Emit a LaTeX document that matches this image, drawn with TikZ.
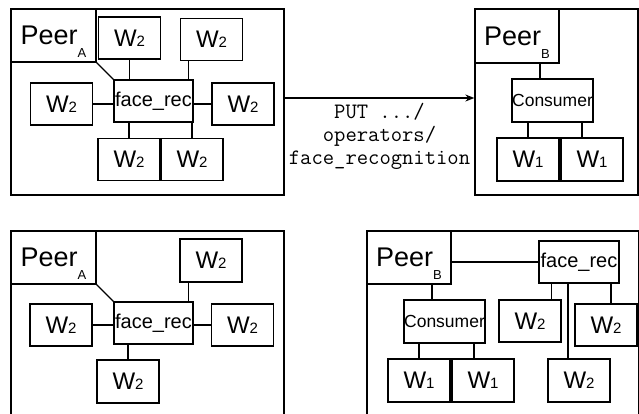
\documentclass[tikz,border=0pt]{standalone}
\usepackage{fontspec}
\setmainfont{Liberation Sans}
\usetikzlibrary{arrows.meta}

\newcommand{\wnum}[1]{W{\fontsize{15}{15}\selectfont #1}}
\newcommand{\peer}[1]{Peer\raisebox{-13pt}[0pt][0pt]{\fontsize{13}{13}\selectfont #1}}

\begin{document}
\begin{tikzpicture}[x=1pt,y=-1pt,
    box/.style={draw,line width=1.3pt,inner sep=0pt,minimum width=62pt,minimum height=42pt,font=\fontsize{24}{24}\selectfont},
    peerbox/.style={box,minimum width=85pt,minimum height=53pt,font=\fontsize{27}{27}\selectfont},
    opbox/.style={box,minimum width=79pt,minimum height=42pt,font=\fontsize{20}{20}\selectfont},
    consbox/.style={box,minimum width=81pt,minimum height=43pt,font=\fontsize{17.5}{17.5}\selectfont},
    panel/.style={draw,line width=1.3pt,inner sep=0pt},
    link/.style={line width=1.4pt}]
    \clip (0,0) rectangle (639,413);

    % peer A, before
    \node[panel,minimum width=273pt,minimum height=186pt] (panA) at (147.5,102) {};
    \node[peerbox] (peerA) at (53.5,35.5) {\peer{A}};
    \node[opbox] (faceA) at (153.5,101) {face\_rec};
    \node[box] (wA1) at (129.5,38) {\wnum{2}};
    \node[box] (wA2) at (211.5,39.5) {\wnum{2}};
    \node[box] (wA3) at (61.5,104) {\wnum{2}};
    \node[box] (wA4) at (243,104) {\wnum{2}};
    \node[box] (wA5) at (129,159.5) {\wnum{2}};
    \node[box] (wA6) at (192,159.5) {\wnum{2}};
    \draw[link] (peerA.south east) -- (faceA.north west);
    \draw[link] (wA1.south) -- (wA1.south |- faceA.north);
    \draw[link] ([xshift=-5pt]faceA.north east) -- ([xshift=-5pt]faceA.north east |- wA2.south);
    \draw[link] (wA3.east) -- (wA3.east -| faceA.west);
    \draw[link] (wA4.west) -- (wA4.west -| faceA.east);
    \draw[link] (wA5.north) -- (wA5.north |- faceA.south);
    \draw[link] (wA6.north) -- (wA6.north |- faceA.south);

    % peer B, before
    \node[panel,minimum width=163pt,minimum height=186pt] (panB) at (556.5,102) {};
    \node[peerbox,minimum width=84pt,minimum height=54pt] (peerB) at (517,36) {\peer{B}};
    \node[consbox] (consB) at (552.5,100.5) {Consumer};
    \node[box,minimum height=43pt] (wB1) at (528,159.5) {\wnum{1}};
    \node[box,minimum height=43pt] (wB2) at (592,159.5) {\wnum{1}};
    \draw[link] ([xshift=-12.5pt]consB.north) -- ([xshift=-12.5pt]consB.north |- peerB.south);
    \draw[link] (wB1.north) -- (wB1.north |- consB.south);
    \draw[link] ([xshift=-10pt]wB2.north) -- ([xshift=-10pt]wB2.north |- consB.south);

    % request
    \draw[link,-{Stealth[length=9pt,width=7pt]}] ([yshift=4pt]panA.east) -- node[below=1pt,align=center,font=\ttfamily\fontsize{22}{23}\selectfont]{PUT .../\\operators/\\face\_recognition} ([yshift=4pt]panB.west);

    % peer A, after
    \node[panel,minimum width=273pt,minimum height=199pt] (panC) at (147.5,330.5) {};
    \node[peerbox] (peerC) at (53.5,257.5) {\peer{A}};
    \node[opbox] (faceC) at (153.5,323) {face\_rec};
    \node[box,minimum height=43pt] (wC1) at (211,260.5) {\wnum{2}};
    \node[box] (wC2) at (61,325) {\wnum{2}};
    \node[box] (wC3) at (242.5,325) {\wnum{2}};
    \node[box,minimum height=43pt] (wC4) at (128,381.5) {\wnum{2}};
    \draw[link] (peerC.south east) -- (faceC.north west);
    \draw[link] ([xshift=-5pt]faceC.north east) -- ([xshift=-5pt]faceC.north east |- wC1.south);
    \draw[link] (wC2.east) -- (wC2.east -| faceC.west);
    \draw[link] (wC3.west) -- (wC3.west -| faceC.east);
    \draw[link] (wC4.north) -- (wC4.north |- faceC.south);

    % peer B, after
    \node[panel,minimum width=271.5pt,minimum height=199pt] (panD) at (502.75,330.5) {};
    \node[peerbox,minimum width=84pt] (peerD) at (409,257.5) {\peer{B}};
    \node[opbox,minimum width=80pt] (faceD) at (579,262) {face\_rec};
    \node[consbox] (consD) at (444.5,321.5) {Consumer};
    \node[box] (wD1) at (530,321) {\wnum{2}};
    \node[box] (wD2) at (606,325) {\wnum{2}};
    \node[box,minimum height=43pt] (wD3) at (579,380.5) {\wnum{2}};
    \node[box,minimum height=43pt] (wD4) at (419,380.5) {\wnum{1}};
    \node[box,minimum height=43pt] (wD5) at (483,380.5) {\wnum{1}};
    \draw[link] (faceD.west) -- (faceD.west -| peerD.east);
    \draw[link] ([xshift=-12.5pt]consD.north) -- ([xshift=-12.5pt]consD.north |- peerD.south);
    \draw[link] (wD4.north) -- (wD4.north |- consD.south);
    \draw[link] ([xshift=-9pt]wD5.north) -- ([xshift=-9pt]wD5.north |- consD.south);
    \draw[link] ([xshift=13pt]faceD.south west) -- ([xshift=13pt]faceD.south west |- wD1.north);
    \draw[link] ([xshift=-11pt]wD3.north) -- ([xshift=-11pt]wD3.north |- faceD.south);
    \draw[link] ([xshift=5pt]wD2.north) -- ([xshift=5pt]wD2.north |- faceD.south);
\end{tikzpicture}
\end{document}
